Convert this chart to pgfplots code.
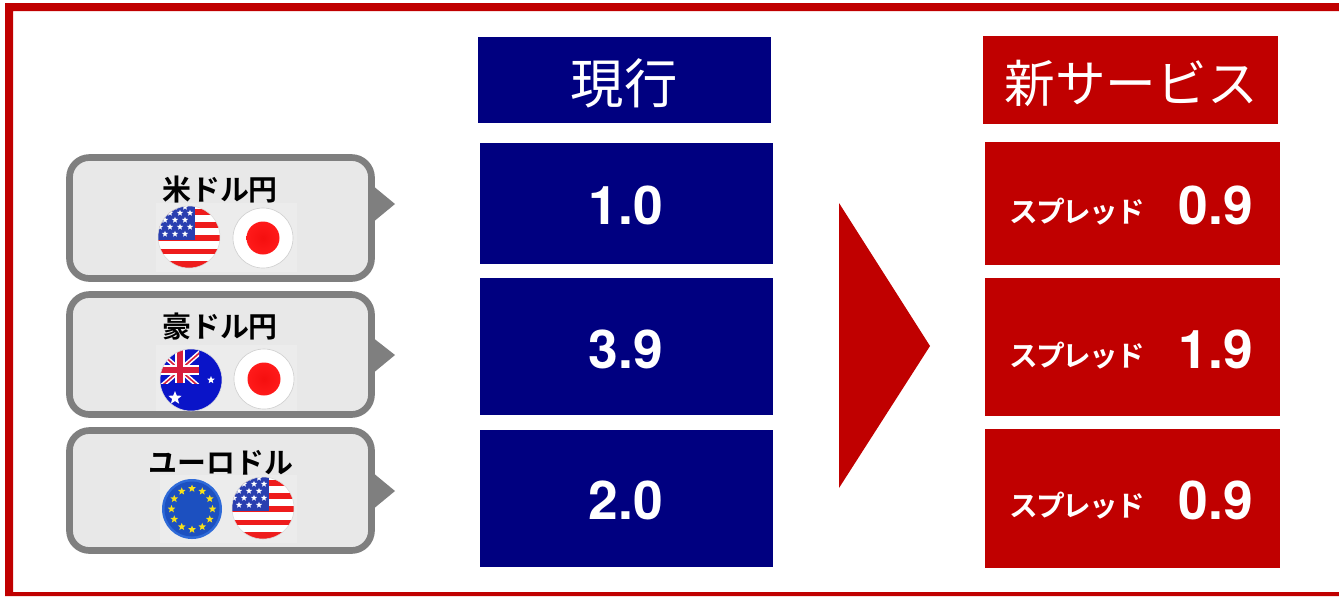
\documentclass[border=0pt]{standalone}
\usepackage{pgfplots}
\pgfplotsset{compat=1.18}
\usepackage{fontspec}
\usetikzlibrary{shapes.geometric}
\setmainfont{TeX Gyre Heros}
\newfontfamily\cjk{Noto Sans CJK JP}[BoldFont={Noto Sans CJK JP Bold}]
\newfontfamily\cjktight{Noto Sans CJK JP}[BoldFont={Noto Sans CJK JP Bold},LetterSpace=-7]
\definecolor{nv}{HTML}{000080}
\definecolor{rd}{HTML}{C00000}
\definecolor{gr}{HTML}{7F7F7F}
\definecolor{lg}{HTML}{E8E8E8}
\definecolor{bk}{HTML}{ECECEC}
\definecolor{usb}{HTML}{2A3FB0}
\definecolor{usr}{HTML}{EE1C1C}
\definecolor{eub}{HTML}{1C50C0}
\definecolor{eul}{HTML}{2E6AD8}
\definecolor{aub}{HTML}{0A14C8}
\definecolor{aur}{HTML}{D81E3C}
\definecolor{jpr}{HTML}{F50F0F}
\definecolor{jpo}{HTML}{FF1A1A}
\definecolor{esy}{HTML}{F7E11A}
% star helper: px size
\newcommand{\st}[4]{\node[star,star points=5,star point ratio=2.3,fill=#4,draw=none,inner sep=0pt,minimum size=#3*0.75pt] at ({#1},{#2}) {};}
\newcommand{\usflag}{\begin{tikzpicture}[x=0.75pt,y=-0.75pt]
\path[use as bounding box] (-32,-32) rectangle (32,32);
\begin{scope}
\clip (0,0) circle[radius=31];
\fill[white] (-32,-32) rectangle (32,32);
\foreach \a/\b in {-28/-22,-15/-9,-2/4,12/17,24/32}{\fill[usr] (-32,\a) rectangle (32,\b);}
\fill[usb] (-32,-32) rectangle (6,3);
\foreach \x/\y in {-24/-3,-14/-3,-4/-3,-19/-10,-9/-10,1/-10,-24/-17,-14/-17,-4/-17,-19/-24,-9/-24,1/-24,-14/-30,-4/-30,-29/-10,-28/-17}{\st{\x}{\y}{6.5}{white}}
\end{scope}
\draw[black!15,line width=.4pt] (0,0) circle[radius=31];
\end{tikzpicture}}
\newcommand{\jpflag}{\begin{tikzpicture}[x=0.75pt,y=-0.75pt]
\path[use as bounding box] (-32,-32) rectangle (32,32);
\fill[white] (0,0) circle[radius=30];
\draw[black!18,line width=.5pt] (0,0) circle[radius=30];
\shade[inner color=jpr,outer color=jpo] (0,0) circle[radius=16.5];
\end{tikzpicture}}
\newcommand{\auflag}{\begin{tikzpicture}[x=0.75pt,y=-0.75pt]
\path[use as bounding box] (-32,-32) rectangle (32,32);
\begin{scope}
\clip (0,0) circle[radius=31];
\fill[aub] (-32,-32) rectangle (32,32);
\begin{scope}
\clip (-32,-32) rectangle (8,3);
\draw[white,line width=3.5pt] (-36,-32) -- (14,12) (-36,12) -- (14,-32);
\draw[aur,line width=1.2pt] (-36,-32) -- (14,12) (-36,12) -- (14,-32);
\draw[white,line width=7pt] (-11,-32) -- (-11,3) (-32,-10) -- (8,-10);
\draw[aur,line width=4pt] (-11,-32) -- (-11,3) (-32,-10) -- (8,-10);
\end{scope}
\st{-16}{18}{14}{white}
\st{20}{0}{8}{white}
\end{scope}
\draw[black!12,line width=.4pt] (0,0) circle[radius=31];
\end{tikzpicture}}
\newcommand{\euflag}{\begin{tikzpicture}[x=0.75pt,y=-0.75pt]
\path[use as bounding box] (-32,-32) rectangle (32,32);
\fill[eul] (0,0) circle[radius=30];
\fill[eub] (0,0) circle[radius=27.5];
\foreach \ang in {0,30,...,330}{\st{20.5*cos(\ang)}{20.5*sin(\ang)}{8}{esy}}
\end{tikzpicture}}
\begin{document}
\begin{tikzpicture}
\begin{axis}[
  width=1004.25pt,height=447pt,scale only axis,
  xmin=0,xmax=1339,ymin=0,ymax=596,y dir=reverse,
  hide axis,clip=false,enlargelimits=false]
% page background, keeps the full extent
\addplot[fill=white,draw=none] coordinates {(0,0) (1339,0) (1339,596) (0,596)} --cycle;
% outer frame
\addplot[fill=rd,draw=none] coordinates {(5,3) (1339,3) (1339,11) (13,11) (13,592) (1339,592) (1339,596) (5,596)} --cycle;
% current column
\addplot[fill=nv,draw=none] coordinates {(478,37) (771,37) (771,123) (478,123)} --cycle;
\addplot[fill=nv,draw=none] coordinates {(480,143) (773,143) (773,264) (480,264)} --cycle;
\addplot[fill=nv,draw=none] coordinates {(480,278) (773,278) (773,415) (480,415)} --cycle;
\addplot[fill=nv,draw=none] coordinates {(480,430) (773,430) (773,567) (480,567)} --cycle;
% new column
\addplot[fill=rd,draw=none] coordinates {(983,36) (1278,36) (1278,124) (983,124)} --cycle;
\addplot[fill=rd,draw=none] coordinates {(985,142) (1280,142) (1280,265) (985,265)} --cycle;
\addplot[fill=rd,draw=none] coordinates {(985,278) (1280,278) (1280,416) (985,416)} --cycle;
\addplot[fill=rd,draw=none] coordinates {(985,429) (1280,429) (1280,568) (985,568)} --cycle;
% arrow
\addplot[fill=rd,draw=none] coordinates {(839,203) (930,346) (839,488)} --cycle;
% callout pointers
\addplot[fill=gr,draw=none] coordinates {(372,185) (395,204) (372,223)} --cycle;
\addplot[fill=gr,draw=none] coordinates {(372,337) (395,355) (372,374)} --cycle;
\addplot[fill=gr,draw=none] coordinates {(372,472) (395,491) (372,510)} --cycle;
% callouts
\draw[gr,fill=lg,line width=5pt,rounded corners=15pt] (axis cs:69.5,157.5) rectangle (axis cs:371.5,278.5);
\draw[gr,fill=lg,line width=5pt,rounded corners=15pt] (axis cs:69.5,294.5) rectangle (axis cs:371.5,414.5);
\draw[gr,fill=lg,line width=5pt,rounded corners=15pt] (axis cs:69.5,430.5) rectangle (axis cs:371.5,550.5);
\fill[bk] (axis cs:156,203) rectangle (axis cs:297,272);
\fill[bk] (axis cs:156,345) rectangle (axis cs:297,411);
\fill[bk] (axis cs:160,475) rectangle (axis cs:297,543);
% flags
\node[inner sep=0pt] at (axis cs:189,237) {\usflag};
\node[inner sep=0pt] at (axis cs:263,238) {\jpflag};
\node[inner sep=0pt] at (axis cs:191,380) {\auflag};
\node[inner sep=0pt] at (axis cs:264,379) {\jpflag};
\node[inner sep=0pt] at (axis cs:192,509) {\euflag};
\node[inner sep=0pt] at (axis cs:263,508) {\usflag};
% callout labels
\node[anchor=base,inner sep=0pt,font=\cjk\bfseries\fontsize{21.7}{21.7}\selectfont] at (axis cs:220,200) {米ドル円};
\node[anchor=base,inner sep=0pt,font=\cjk\bfseries\fontsize{21.7}{21.7}\selectfont] at (axis cs:220,337) {豪ドル円};
\node[anchor=base,inner sep=0pt,font=\cjk\bfseries\fontsize{21.7}{21.7}\selectfont] at (axis cs:221,473) {ユーロドル};
% headers
\node[anchor=base,inner sep=0pt,white,font=\cjk\fontsize{40}{40}\selectfont] at (axis cs:624,103) {現行};
\node[anchor=base,inner sep=0pt,white,font=\cjk\fontsize{38}{38}\selectfont] at (axis cs:1131,102) {新サービス};
% current values
\node[anchor=base,inner sep=0pt,white,font=\bfseries\fontsize{40}{40}\selectfont] at (axis cs:626,224.5) {1.0};
\node[anchor=base,inner sep=0pt,white,font=\bfseries\fontsize{40}{40}\selectfont] at (axis cs:626,368.5) {3.9};
\node[anchor=base,inner sep=0pt,white,font=\bfseries\fontsize{40}{40}\selectfont] at (axis cs:626,519.5) {2.0};
% new values
\node[anchor=base,inner sep=0pt,white,font=\bfseries\fontsize{40}{40}\selectfont] at (axis cs:1216,224) {0.9};
\node[anchor=base,inner sep=0pt,white,font=\bfseries\fontsize{40}{40}\selectfont] at (axis cs:1216,368.5) {1.9};
\node[anchor=base,inner sep=0pt,white,font=\bfseries\fontsize{40}{40}\selectfont] at (axis cs:1216,519) {0.9};
\node[anchor=base,inner sep=0pt,white,font=\cjktight\bfseries\fontsize{21.5}{21.5}\selectfont] at (axis cs:1077,222) {スプレッド};
\node[anchor=base,inner sep=0pt,white,font=\cjktight\bfseries\fontsize{21.5}{21.5}\selectfont] at (axis cs:1077,366) {スプレッド};
\node[anchor=base,inner sep=0pt,white,font=\cjktight\bfseries\fontsize{21.5}{21.5}\selectfont] at (axis cs:1077,516) {スプレッド};
\end{axis}
\end{tikzpicture}
\end{document}
